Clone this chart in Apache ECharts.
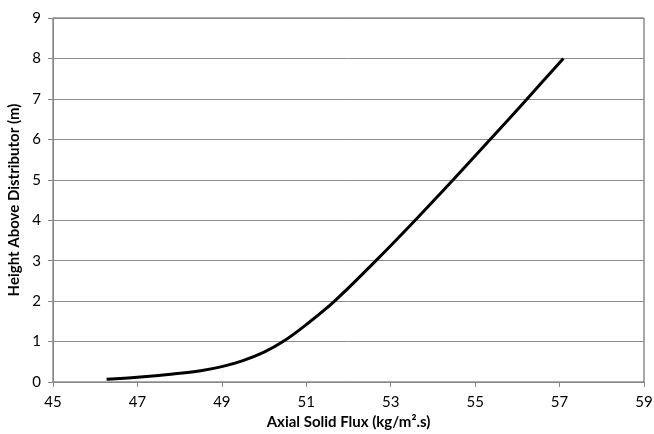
<!DOCTYPE html>
<html>
<head>
<meta charset="utf-8">
<script src="https://cdn.jsdelivr.net/npm/echarts@6/dist/echarts.min.js"></script>
<style>
  html, body { margin: 0; padding: 0; background: #fff; }
  #chart { width: 654px; height: 434px; }
</style>
</head>
<body>
<div id="chart"></div>
<script>
// 曲线数据：轴向固体通量 vs 布风板以上高度
var fluxValues = [46.27, 47.0, 47.85, 48.5, 49.0, 49.5, 50.0, 50.45, 51.0, 51.67, 52.65, 53.58, 54.48, 55.36, 56.23, 57.09];
var heightValues = [0.07, 0.12, 0.2, 0.28, 0.38, 0.53, 0.74, 1.0, 1.42, 2.0, 3.0, 4.0, 5.0, 6.0, 7.0, 8.0];

var xTitle = 'Axial Solid Flux (kg/m\u00b2.s)';
var yTitle = 'Height Above Distributor (m)';

var points = [];
for (var i = 0; i < fluxValues.length; i++) {
    points.push([fluxValues[i], heightValues[i]]);
}

var FONT = 'Lato, "Open Sans", sans-serif';

var option = {
    backgroundColor: '#fff',
    animation: false,
    grid: {
        left: 53,
        right: 10,
        top: 18,
        bottom: 52,
        outerBoundsMode: 'none',
        show: true,
        borderColor: '#555',
        borderWidth: 1
    },
    xAxis: {
        type: 'value',
        min: 45,
        max: 59,
        interval: 2,
        name: xTitle,
        nameLocation: 'middle',
        nameGap: 33,
        nameTextStyle: { fontFamily: FONT, fontSize: 15, fontWeight: 'bold', color: '#000' },
        axisLine: { show: true, lineStyle: { color: '#888', width: 1 } },
        axisTick: { show: true, length: 5, lineStyle: { color: '#888' } },
        axisLabel: { fontFamily: FONT, fontSize: 15, color: '#000', margin: 13 },
        splitLine: { show: false }
    },
    yAxis: {
        type: 'value',
        min: 0,
        max: 9,
        interval: 1,
        name: yTitle,
        nameLocation: 'middle',
        nameGap: 28,
        nameTextStyle: { fontFamily: FONT, fontSize: 15, fontWeight: 'bold', color: '#000' },
        axisLine: { show: true, lineStyle: { color: '#888', width: 1 } },
        axisTick: { show: true, length: 5, lineStyle: { color: '#888' } },
        axisLabel: { fontFamily: FONT, fontSize: 15, color: '#000', margin: 12 },
        splitLine: { show: true, lineStyle: { color: '#8c8c8c', width: 1 } }
    },
    series: [
        {
            type: 'line',
            data: points,
            smooth: 0.35,
            showSymbol: false,
            lineStyle: { color: '#000', width: 3 }
        }
    ]
};

var chart = echarts.init(document.getElementById('chart'));
chart.setOption(option, true);
</script>
</body>
</html>
